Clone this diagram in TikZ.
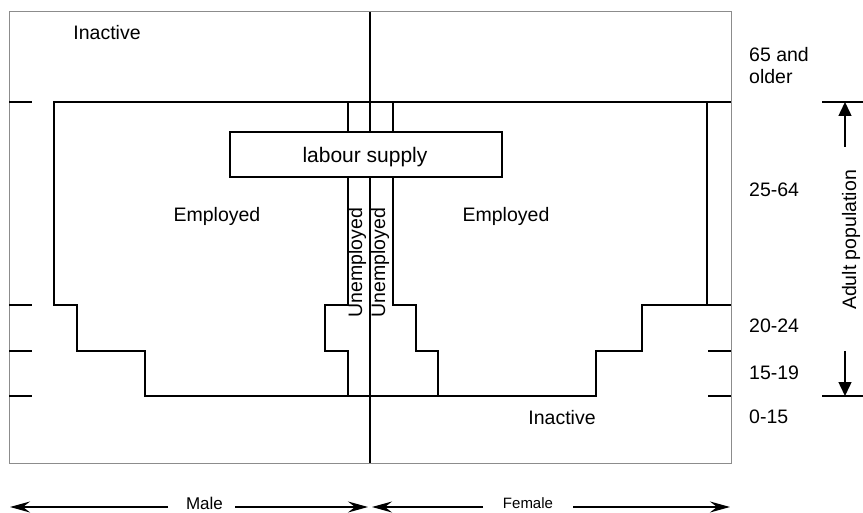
\documentclass[tikz,border=0pt]{standalone}
\usepackage{fontspec}
\setmainfont{Liberation Sans}
\usetikzlibrary{arrows.meta}
\begin{document}
\begin{tikzpicture}[x=1pt,y=-1pt,
  lbl/.style={font=\fontsize{19.5}{22}\selectfont, inner sep=0pt, anchor=base},
  lblw/.style={lbl, anchor=base west},
  small/.style={font=\fontsize{17}{20}\selectfont, inner sep=0pt, anchor=base},
  smaller/.style={font=\fontsize{15}{18}\selectfont, inner sep=0pt, anchor=base},
  outline/.style={line width=1.6pt, line join=miter},
  frame/.style={line width=1pt, draw=black!45},
  tick/.style={line width=1.5pt},
  axis/.style={line width=1.3pt},
  sexarrow/.style={line width=1.5pt, -{Stealth[length=20pt,width=11pt,inset=7pt]}},
  adultarrow/.style={line width=1.5pt, -{Triangle[length=14pt,width=13pt]}}]
\useasboundingbox (0,0) rectangle (863,513);

% frame
\draw[frame] (9,12) rectangle (731,463);

% tick marks
\foreach \yy in {102,305,351,396} {
  \draw[tick] (9,\yy) -- (32,\yy);
  \draw[tick] (708,\yy) -- (731,\yy);
}

% centre line
\draw[axis] (370,12) -- (370,463);

% employed outline
\draw[outline] (54,102) -- (54,305) -- (77,305) -- (77,351) -- (145,351) -- (145,396)
  -- (596,396) -- (596,351) -- (642,351) -- (642,305) -- (707,305) -- (707,102) -- cycle;

% unemployed strips
\draw[outline] (348,102) -- (348,305) -- (325,305) -- (325,351) -- (348,351) -- (348,396);
\draw[outline] (393,102) -- (393,305) -- (416,305) -- (416,351) -- (438,351) -- (438,396);

% labour supply box
\node[draw, fill=white, line width=1.6pt, minimum width=272pt, minimum height=45pt,
  inner sep=0pt] (ls) at (366,154.5) {};
\node[lbl, font=\fontsize{21}{24}\selectfont] (lstext) at (365,163) {labour supply};

% labels
\node[lbl] (inact1) at (107,40) {Inactive};
\node[lbl] (inact2) at (562,424) {Inactive};
\node[lbl] (empm) at (217,222) {Employed};
\node[lbl] (empf) at (506,222) {Employed};
\node[lbl, rotate=90] (unm) at (362,262.5) {Unemployed};
\node[lbl, rotate=90] (unf) at (385,262.5) {Unemployed};

% age labels
\node[lblw] (a65) at (749,62) {65 and};
\node[lblw] (a65b) at (749,84) {older};
\node[lblw] (a25) at (749,197) {25-64};
\node[lblw] (a20) at (749,333) {20-24};
\node[lblw] (a15) at (749,379) {15-19};
\node[lblw] (a0) at (749,423) {0-15};

% adult population
\coordinate (adtop) at (845,102);
\coordinate (adbot) at (845,396);
\coordinate (adup) at (845,147);
\coordinate (addn) at (845,351);
\draw[tick] (822,102) -- (863,102);
\draw[tick] (822,396) -- (863,396);
\draw[adultarrow] (adup) -- (adtop);
\draw[adultarrow] (addn) -- (adbot);
\node[lbl, rotate=90, anchor=center] (adult) at (851,240) {Adult population};

% male / female arrows
\node[small] (male) at (204.5,509) {Male};
\node[smaller] (female) at (528,508) {Female};
\coordinate (mL) at (10,507);
\coordinate (mLe) at (168,507);
\coordinate (mRs) at (235,507);
\coordinate (mR) at (368,507);
\coordinate (fL) at (372,507);
\coordinate (fLe) at (483,507);
\coordinate (fRs) at (573,507);
\coordinate (fR) at (730,507);
\draw[sexarrow] (mLe) -- (mL);
\draw[sexarrow] (mRs) -- (mR);
\draw[sexarrow] (fLe) -- (fL);
\draw[sexarrow] (fRs) -- (fR);
\end{tikzpicture}
\end{document}
